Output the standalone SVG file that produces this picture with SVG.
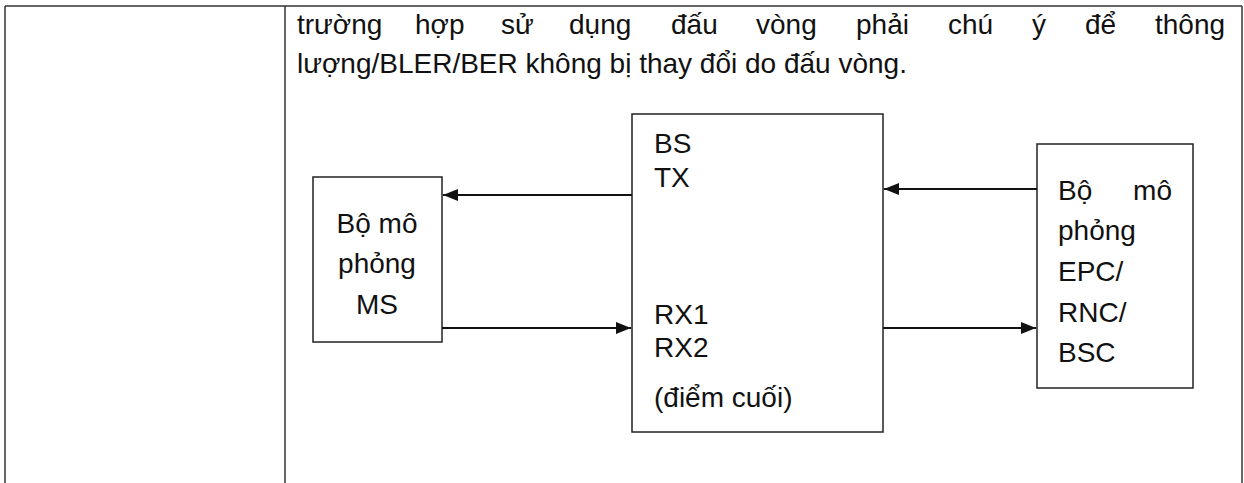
<svg xmlns="http://www.w3.org/2000/svg" width="1244" height="483" viewBox="0 0 1244 483">
<style>
.t{font-family:"Liberation Sans",Arial,sans-serif;font-size:28px;fill:#111}
.tbl{stroke:#333;stroke-width:1.5;fill:none}
.box{stroke:#222;stroke-width:1.5;fill:#fff}
.ln{stroke:#111;stroke-width:2;fill:none}
</style>
<defs>
<marker id="ah" markerWidth="15" markerHeight="12" refX="15" refY="6" orient="auto" markerUnits="userSpaceOnUse">
<path d="M0,0 L15,6 L0,12 Z" fill="#111"/>
</marker>
</defs>
<rect width="1244" height="483" fill="#fff"/>
<g id="table">
<line class="tbl" x1="5" y1="6" x2="1242" y2="6"/>
<line class="tbl" x1="5" y1="6" x2="5" y2="483"/>
<line class="tbl" x1="285" y1="6" x2="285" y2="483"/>
<line class="tbl" x1="1242" y1="6" x2="1242" y2="483"/>
</g>
<g id="paragraph" class="t">
<text y="34"><tspan x="297">trường</tspan><tspan x="415">hợp</tspan><tspan x="501">sử</tspan><tspan x="569">dụng</tspan><tspan x="671">đấu</tspan><tspan x="756">vòng</tspan><tspan x="856">phải</tspan><tspan x="948">chú</tspan><tspan x="1032">ý</tspan><tspan x="1085">để</tspan><tspan x="1155">thông</tspan></text>
<text x="297" y="73">lượng/BLER/BER không bị thay đổi do đấu vòng.</text>
</g>
<g id="ms">
<rect class="box" x="313" y="177" width="129" height="165"/>
<text class="t" text-anchor="middle"><tspan x="377" y="233">Bộ mô</tspan><tspan x="377" y="273">phỏng</tspan><tspan x="377" y="314">MS</tspan></text>
</g>
<g id="bs">
<rect class="box" x="632" y="114" width="251" height="318"/>
<text class="t"><tspan x="654" y="153">BS</tspan><tspan x="654" y="187">TX</tspan><tspan x="654" y="324">RX1</tspan><tspan x="654" y="357">RX2</tspan><tspan x="654" y="407">(điểm cuối)</tspan></text>
</g>
<g id="epc">
<rect class="box" x="1037" y="144" width="156" height="244"/>
<text class="t"><tspan x="1058" y="200">Bộ</tspan><tspan x="1172" y="200" text-anchor="end">mô</tspan><tspan x="1058" y="240">phỏng</tspan><tspan x="1058" y="281">EPC/</tspan><tspan x="1058" y="322">RNC/</tspan><tspan x="1058" y="362">BSC</tspan></text>
</g>
<g id="connectors">
<line class="ln" x1="632" y1="195" x2="443" y2="195" marker-end="url(#ah)"/>
<line class="ln" x1="442" y1="328" x2="631" y2="328" marker-end="url(#ah)"/>
<line class="ln" x1="1037" y1="189" x2="884" y2="189" marker-end="url(#ah)"/>
<line class="ln" x1="883" y1="328" x2="1036" y2="328" marker-end="url(#ah)"/>
</g>
</svg>
